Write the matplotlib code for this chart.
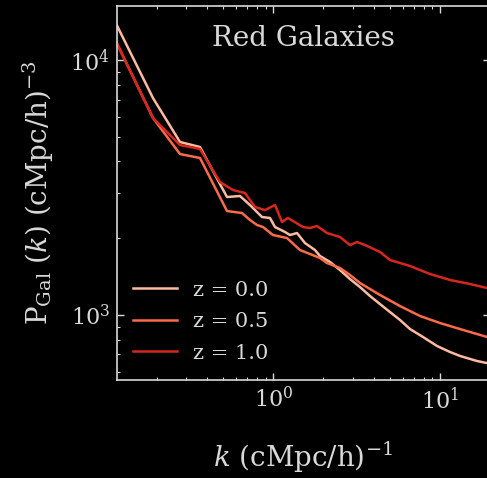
import matplotlib
matplotlib.use("Agg")
import matplotlib.pyplot as plt

# Galaxy power spectra (k in h/cMpc, P in (cMpc/h)^3)
k_z00 = [0.1150, 0.1898, 0.2756, 0.3634, 0.5276, 0.6313, 0.7248, 0.8555, 0.9554,
         1.0238, 1.1754, 1.2594, 1.3873, 1.5495, 1.7791, 1.9055, 2.1887, 2.5123,
         2.8845, 3.3122, 3.8029, 4.3660, 5.0130, 5.7570, 6.6080, 7.907, 9.594,
         11.48, 13.18, 16.67, 19.14]
p_z00 = [13720, 7096, 4770, 4559, 2902, 2929, 2700, 2423, 2401,
         2214, 2116, 2059, 2097, 1915, 1798, 1704, 1614, 1501,
         1384, 1287, 1187, 1104, 1027, 956, 881, 820, 756,
         716, 691, 660, 648]

k_z05 = [0.1150, 0.1898, 0.2756, 0.3634, 0.5276, 0.6490, 0.7248, 0.7984, 0.8673,
         0.9959, 1.2082, 1.4460, 1.6603, 1.9055, 2.0997, 2.5123, 2.8845, 3.3122,
         4.3660, 5.7570, 7.588, 10.0, 13.18, 19.14]
p_z05 = [11660, 5924, 4280, 4128, 2557, 2512, 2358, 2254, 2214,
         2059, 2004, 1798, 1735, 1673, 1599, 1529, 1435, 1335,
         1198, 1084, 991, 930, 881, 820]

k_z10 = [0.1150, 0.1898, 0.2756, 0.3634, 0.4790, 0.5731, 0.6765, 0.7766, 0.8918,
         1.0238, 1.1277, 1.2251, 1.5072, 1.6603, 1.8290, 2.0997, 2.5123, 2.8845,
         3.1778, 3.5489, 4.3660, 5.0130, 6.6080, 8.710, 11.48, 15.14, 19.14]
p_z10 = [11660, 5924, 4642, 4477, 3323, 3091, 3009, 2651, 2580,
         2700, 2316, 2401, 2214, 2194, 2234, 2097, 2022, 1881,
         1933, 1881, 1767, 1643, 1557, 1448, 1372, 1323, 1276]

labels = ["z = 0.0", "z = 0.5", "z = 1.0"]
colors = ["#fcbba1", "#fb6a4a", "#d7261e"]

fg = "#d9d9d9"
plt.rcParams["font.family"] = "DejaVu Serif"
plt.rcParams["mathtext.fontset"] = "dejavuserif"

fig = plt.figure(figsize=(4.87, 4.78), dpi=100, facecolor="black")
ax = fig.add_axes([116.7 / 487, 1 - 380 / 478, (490 - 116.7) / 487, 374 / 478])
ax.set_facecolor("black")

for k, p, lab, c in zip([k_z00, k_z05, k_z10], [p_z00, p_z05, p_z10], labels, colors):
    ax.plot(k, p, color=c, lw=1.8, label=lab)

ax.set_xscale("log")
ax.set_yscale("log")
ax.set_xlim(0.115, 19.95)
ax.set_ylim(556, 16290)

for s in ax.spines.values():
    s.set_color(fg)
    s.set_linewidth(1.2)
ax.tick_params(which="both", direction="in", top=True, right=True, colors=fg, labelsize=16)
ax.tick_params(which="major", length=5, width=1, pad=5)
ax.tick_params(which="minor", length=2.5, width=0.8)

ax.set_xlabel(r"$k$ (cMpc/h)$^{-1}$", color=fg, fontsize=20, labelpad=19)
ax.set_ylabel(r"P$_{\rm Gal}$ ($k$) (cMpc/h)$^{-3}$", color=fg, fontsize=20, labelpad=10)
ax.text(0.5, 0.914, "Red Galaxies", transform=ax.transAxes, ha="center", va="center",
        color=fg, fontsize=20)

leg = ax.legend(loc="lower left", bbox_to_anchor=(-0.006, -0.004), frameon=False, fontsize=15,
                handlelength=2.1, handletextpad=0.75, labelspacing=0.6, borderaxespad=0.5)
for t in leg.get_texts():
    t.set_color(fg)

fig.savefig("out.png", dpi=100, facecolor="black")
